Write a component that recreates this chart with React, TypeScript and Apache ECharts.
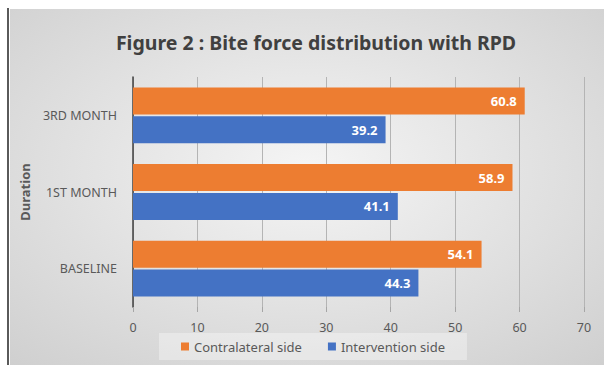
import React, { useEffect, useRef } from "react";
import * as echarts from "echarts";

const categories = ["BASELINE", "1ST MONTH", "3RD MONTH"];
const contralateral = [54.1, 58.9, 60.8];
const intervention = [44.3, 41.1, 39.2];
const seriesNames = ["Contralateral side", "Intervention side"];
const xTicks = { min: 0, max: 70, interval: 10 };

export default function App() {
  const ref = useRef<HTMLDivElement>(null);
  useEffect(() => {
    document.body.style.margin = "0";
    const chart = echarts.init(ref.current!, null, { renderer: "svg" });
    const font = "'Noto Sans', 'Open Sans', sans-serif";
    const label = {
      show: true,
      position: "insideRight",
      distance: 8,
      color: "#ffffff",
      fontWeight: "bold",
      fontFamily: font,
      fontSize: 13,
    };
    chart.setOption({
      animation: false,
      backgroundColor: "#ffffff",
      graphic: [
        {
          type: "rect",
          shape: { x: 10, y: 9, width: 594, height: 356 },
          style: {
            fill: new echarts.graphic.RadialGradient(0.5, 0.45, 0.75, [
              { offset: 0, color: "#f5f5f5" },
              { offset: 1, color: "#cfcfcf" },
            ]),
          },
          z: -10,
          silent: true,
        },
        {
          type: "line",
          shape: { x1: 8, y1: 8, x2: 8, y2: 365 },
          style: { stroke: "#5a5a5a", lineWidth: 2 },
          z: -9,
          silent: true,
        },
      ],
      title: {
        text: "Figure 2 : Bite force distribution with RPD",
        left: 311,
        textAlign: "center",
        top: 27,
        textStyle: { fontFamily: font, fontWeight: "bold", fontSize: 19.5, color: "#404040" },
      },
      legend: {
        left: 159,
        top: 333,
        width: 302,
        data: seriesNames,
        icon: "rect",
        itemWidth: 8,
        itemHeight: 8,
        itemGap: 26,
        padding: [7, 22, 7, 22],
        backgroundColor: "rgba(255,255,255,0.35)",
        textStyle: { fontFamily: font, fontSize: 13, color: "#595959" },
      },
      grid: { left: 133, right: 20, top: 77, bottom: 58, containLabel: false },
      xAxis: {
        type: "value",
        min: xTicks.min,
        max: xTicks.max,
        interval: xTicks.interval,
        axisLine: { show: false },
        axisTick: { show: true, length: 5, lineStyle: { color: "#a6a6a6" } },
        splitLine: { show: true, lineStyle: { color: "#b4b4b4", width: 1 } },
        axisLabel: { margin: 14, fontFamily: font, fontSize: 12.5, color: "#595959" },
      },
      yAxis: {
        type: "category",
        data: categories,
        name: "Duration",
        nameLocation: "middle",
        nameGap: 90,
        nameTextStyle: { fontFamily: font, fontWeight: "bold", fontSize: 13, color: "#595959" },
        axisLine: { show: true, lineStyle: { color: "#404040", width: 1.5 } },
        axisTick: { show: false },
        axisLabel: { margin: 16, fontFamily: font, fontSize: 12.5, color: "#595959" },
      },
      series: [
        {
          name: seriesNames[0],
          type: "bar",
          data: contralateral,
          barWidth: 27,
          barGap: "7%",
          itemStyle: { color: "#ED7D31" },
          label,
        },
        {
          name: seriesNames[1],
          type: "bar",
          data: intervention,
          barWidth: 27,
          barGap: "7%",
          itemStyle: { color: "#4472C4" },
          label,
        },
      ],
    });
    return () => chart.dispose();
  }, []);
  return <div ref={ref} style={{ width: 604, height: 365 }} />;
}
